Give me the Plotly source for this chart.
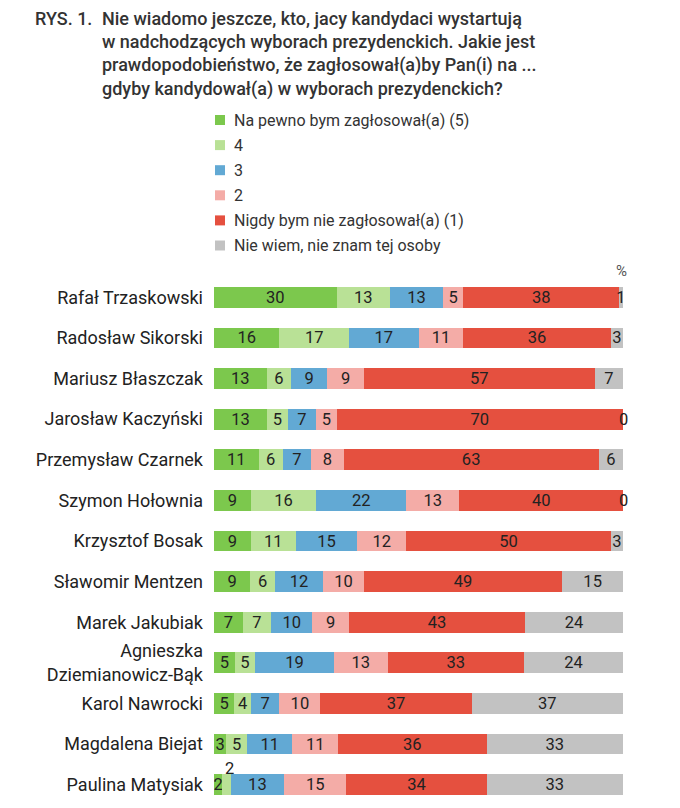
import plotly.graph_objects as go

candidates = ["Rafał Trzaskowski", "Radosław Sikorski", "Mariusz Błaszczak", "Jarosław Kaczyński",
              "Przemysław Czarnek", "Szymon Hołownia", "Krzysztof Bosak", "Sławomir Mentzen",
              "Marek Jakubiak", "Agnieszka<br>Dziemianowicz-Bąk", "Karol Nawrocki",
              "Magdalena Biejat", "Paulina Matysiak"]

series_names = ["Na pewno bym zagłosował(a) (5)", "4", "3", "2",
                "Nigdy bym nie zagłosował(a) (1)", "Nie wiem, nie znam tej osoby"]

v5 = [30, 16, 13, 13, 11, 9, 9, 9, 7, 5, 5, 3, 2]
v4 = [13, 17, 6, 5, 6, 16, 11, 6, 7, 5, 4, 5, 2]
v3 = [13, 17, 9, 7, 7, 22, 15, 12, 10, 19, 7, 11, 13]
v2 = [5, 11, 9, 5, 8, 13, 12, 10, 9, 13, 10, 11, 15]
v1 = [38, 36, 57, 70, 63, 40, 50, 49, 43, 33, 37, 36, 34]
vdk = [1, 3, 7, 0, 6, 0, 3, 15, 24, 24, 37, 33, 33]

series_values = [v5, v4, v3, v2, v1, vdk]
colors = ["#7cc84d", "#b9e196", "#62a9d4", "#f4aca7", "#e5503f", "#c2c2c2"]

title_prefix = "RYS. 1."
title_lines = ["Nie wiadomo jeszcze, kto, jacy kandydaci wystartują",
               "w nadchodzących wyborach prezydenckich. Jakie jest",
               "prawdopodobieństwo, że zagłosował(a)by Pan(i) na ...",
               "gdyby kandydował(a) w wyborach prezydenckich?"]

OFF = 8  # page body margin
W, H = 672, 800
L, R, T, B = 206, 57, 269, 3
PW, PH = W - L - R, H - T - B


def px_x(px):
    return (px - OFF - L) / PW


def px_y(py):
    return (H - B - (py - OFF)) / PH


lab_font = dict(family="Roboto", size=16.5, color="#222222")
annotations = []
shapes = []

# segment labels: tiny segments following another tiny one get a raised label,
# zero-width segments get a label at their cumulative position
texts = [[str(v) for v in s] for s in series_values]
for r, cand in enumerate(candidates):
    row = [s[r] for s in series_values]
    total = sum(row)
    cum = 0
    for s_idx, val in enumerate(row):
        start = cum
        cum += val
        if val == 0:
            texts[s_idx][r] = ""
            annotations.append(dict(text="0", x=cum / total * 100, y=cand, xref="x", yref="y",
                                    xanchor="center", yanchor="middle", showarrow=False,
                                    font=lab_font))
        elif s_idx > 0 and val <= 2 and row[s_idx - 1] <= 2:
            texts[s_idx][r] = ""
            annotations.append(dict(text=str(val), x=(start + val / 2) / total * 100, y=cand,
                                    xref="x", yref="y", xanchor="left", yanchor="middle",
                                    xshift=-3, yshift=16, showarrow=False, font=lab_font))

fig = go.Figure()
for name, vals, col, txt in zip(series_names, series_values, colors, texts):
    fig.add_trace(go.Bar(
        y=candidates, x=vals, name=name, orientation="h",
        marker=dict(color=col, line=dict(width=0)),
        text=txt, texttemplate="%{text}", textposition="inside",
        insidetextanchor="middle", textangle=0,
        textfont=lab_font,
        hoverinfo="x+name", showlegend=False,
    ))

tfont = dict(family="Roboto", size=18, color="#333333", weight=500)
annotations.append(dict(text=title_prefix, x=px_x(94), y=px_y(18), xref="paper", yref="paper",
                        xanchor="right", yanchor="middle", showarrow=False, font=tfont))
for i, line in enumerate(title_lines):
    annotations.append(dict(text=line, x=px_x(100), y=px_y(18 + i * 23.5), xref="paper", yref="paper",
                            xanchor="left", yanchor="middle", showarrow=False, font=tfont))
# legend
for i, (name, col) in enumerate(zip(series_names, colors)):
    cy = 120 + i * 25.1
    shapes.append(dict(type="rect", xref="paper", yref="paper",
                       x0=px_x(215), x1=px_x(225), y0=px_y(cy - 5), y1=px_y(cy + 5),
                       fillcolor=col, line=dict(width=0)))
    annotations.append(dict(text=name, x=px_x(232), y=px_y(cy), xref="paper", yref="paper",
                            xanchor="left", yanchor="middle", showarrow=False,
                            font=dict(family="Roboto", size=16, color="#333333")))
# percent sign
annotations.append(dict(text="%", x=px_x(621), y=px_y(271), xref="paper", yref="paper",
                        xanchor="center", yanchor="middle", showarrow=False,
                        font=dict(family="Roboto", size=15, color="#555555")))

fig.update_layout(
    width=W, height=H,
    margin=dict(l=L, r=R, t=T, b=B, pad=0),
    barmode="stack", barnorm="percent", bargap=0.49,
    paper_bgcolor="white", plot_bgcolor="white",
    uniformtext=dict(minsize=16.5, mode="show"),
    xaxis=dict(range=[0, 100], visible=False, fixedrange=True),
    yaxis=dict(range=[len(candidates) - 0.5, -0.5], autorange=False,
               showgrid=False, showline=False, zeroline=False,
               ticks="", ticklabelstandoff=10, automargin=False,
               tickfont=dict(family="Roboto", size=18, color="#222222")),
    annotations=annotations, shapes=shapes,
    showlegend=False,
)

fig.write_html("out.html")
